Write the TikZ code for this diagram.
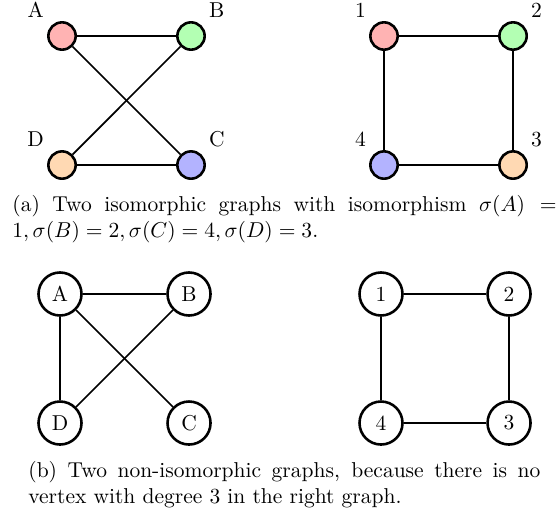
\documentclass[tikz,border=0pt]{standalone}
\usepackage{xcolor}
\usepackage{tikz}
\usetikzlibrary{positioning}
\definecolor{vxred}{HTML}{FFB3B3}
\definecolor{vxgreen}{HTML}{B3FFB3}
\definecolor{vxblue}{HTML}{B3B3FF}
\definecolor{vxorange}{HTML}{FFD9B3}

\begin{document}
\begin{tikzpicture}[x=0.9445cm, y=0.9445cm,
  dot/.style={circle, draw=black, very thick, minimum size=12.7pt, inner sep=0pt},
  vtx/.style={circle, draw=black, very thick, minimum size=20pt, inner sep=0pt},
  edge/.style={black, thick},
  capt/.style={anchor=north west, inner sep=0pt, align=justify}]
% 1px ~ 0.465pt; page is 559 x 514 px
\useasboundingbox (0,0) rectangle (9.67,-8.89);
% (a) coloured graphs
\node[dot, fill=vxred,    label=135:A] (tA) at (1.073,-0.623) {};
\node[dot, fill=vxgreen,  label=45:B]  (tB) at (3.304,-0.623) {};
\node[dot, fill=vxblue,   label=45:C]  (tC) at (3.304,-2.855) {};
\node[dot, fill=vxorange, label=135:D] (tD) at (1.073,-2.855) {};
\draw[edge] (tA) -- (tB);
\draw[edge] (tA) -- (tC);
\draw[edge] (tB) -- (tD);
\draw[edge] (tD) -- (tC);
\node[dot, fill=vxred,    label=135:1] (t1) at (6.643,-0.623) {};
\node[dot, fill=vxgreen,  label=45:2]  (t2) at (8.875,-0.623) {};
\node[dot, fill=vxorange, label=45:3]  (t3) at (8.875,-2.855) {};
\node[dot, fill=vxblue,   label=135:4] (t4) at (6.643,-2.855) {};
\draw[edge] (t1) -- (t2);
\draw[edge] (t1) -- (t4);
\draw[edge] (t2) -- (t3);
\draw[edge] (t4) -- (t3);
\node[capt, text width=253pt] (capa) at (0.208,-3.37)
  {(a) Two isomorphic graphs with isomorphism $\sigma(A) = 1, \sigma(B) = 2, \sigma(C) = 4, \sigma(D) = 3$.};
% (b) plain graphs
\node[vtx] (bA) at (1.038,-5.086) {A};
\node[vtx] (bB) at (3.270,-5.086) {B};
\node[vtx] (bC) at (3.270,-7.318) {C};
\node[vtx] (bD) at (1.038,-7.318) {D};
\draw[edge] (bA) -- (bB);
\draw[edge] (bA) -- (bD);
\draw[edge] (bA) -- (bC);
\draw[edge] (bB) -- (bD);
\node[vtx] (b1) at (6.591,-5.086) {1};
\node[vtx] (b2) at (8.806,-5.086) {2};
\node[vtx] (b3) at (8.806,-7.318) {3};
\node[vtx] (b4) at (6.591,-7.318) {4};
\draw[edge] (b1) -- (b2);
\draw[edge] (b1) -- (b4);
\draw[edge] (b2) -- (b3);
\draw[edge] (b4) -- (b3);
\node[capt, text width=238pt] (capb) at (0.484,-7.975)
  {(b) Two non-isomorphic graphs, because there is no vertex with degree 3 in the right graph.};
\end{tikzpicture}
\end{document}
